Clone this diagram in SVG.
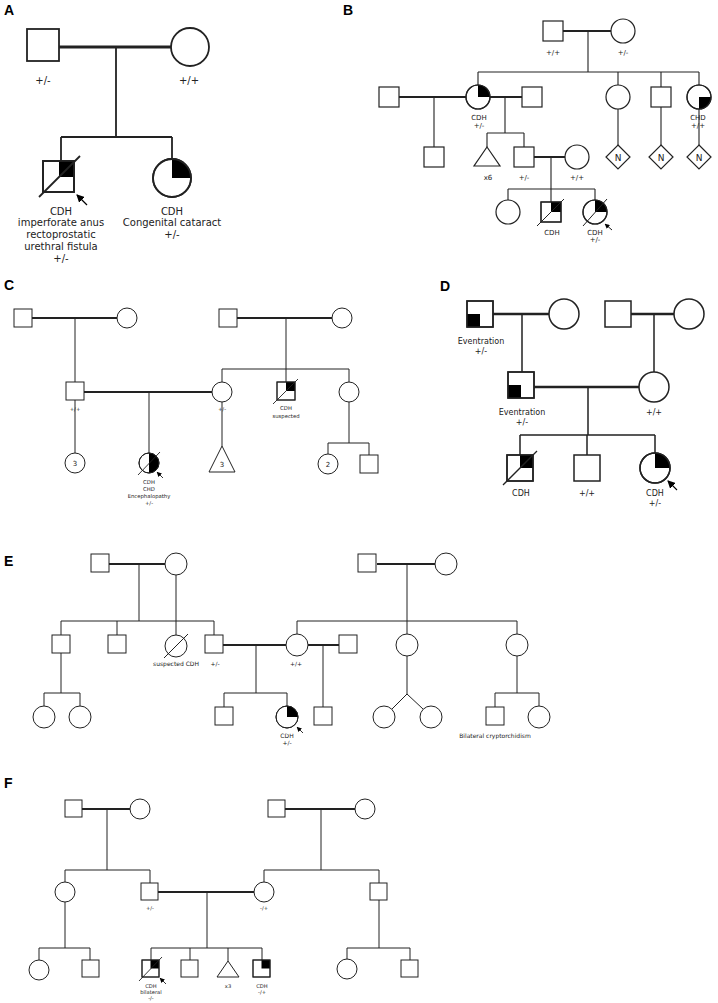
<svg xmlns="http://www.w3.org/2000/svg" width="718" height="1003" viewBox="0 0 718 1003">
<style>
.lbl{font-family:"Liberation Sans",Arial,sans-serif;font-weight:bold;font-size:14px;fill:#000}
.t{font-family:"DejaVu Sans",Verdana,sans-serif;fill:#222;text-anchor:middle}
.ta{font-size:10px}.tb{font-size:7px}.tc{font-size:5.3px}.td{font-size:8px}.te{font-size:6px}.tf{font-size:5.2px}
.n{fill:#fff;stroke:#222}
.sA{stroke-width:1.8}.sB{stroke-width:1.2}.sC{stroke-width:1}.sD{stroke-width:1.5}
.f{fill:#000;stroke:none}
.l{stroke:#222;fill:none}
.m{stroke:#222;fill:none}
</style>
<defs>
<marker id="arL" markerUnits="userSpaceOnUse" markerWidth="8" markerHeight="8" refX="7" refY="4" orient="auto"><path d="M0,0 L8,4 L0,8 z" fill="#000"/></marker>
<marker id="arS" markerUnits="userSpaceOnUse" markerWidth="5" markerHeight="5" refX="4.5" refY="2.5" orient="auto"><path d="M0,0 L5,2.5 L0,5 z" fill="#000"/></marker>
</defs>
<rect width="718" height="1003" fill="#fff"/>
<text class="lbl" x="4" y="15">A</text>
<text class="lbl" x="343" y="15">B</text>
<text class="lbl" x="4" y="290">C</text>
<text class="lbl" x="440" y="291">D</text>
<text class="lbl" x="4" y="566">E</text>
<text class="lbl" x="4" y="788">F</text>

<g id="connectors">
 <!-- A -->
 <g stroke-width="1.8" class="l">
  <path d="M116,47V137 M61,137H172 M61,137V161 M172,137V159"/>
 </g>
 <path class="m" stroke-width="3" d="M59,47H171"/>
 <line x1="87" y1="205" x2="77" y2="195" stroke="#000" stroke-width="1.3" marker-end="url(#arL)"/>
 <!-- B -->
 <g class="l" stroke-width="1.1">
  <path d="M588,31V72 M478,72H699 M478,72V85 M618,72V85 M661,72V87 M699,72V85"/>
  <path d="M434,97V147 M505,97V133 M487,133H524 M487,133V147 M524,133V147"/>
  <path d="M551,157V189 M508,189H595 M508,189V200 M551,189V202 M595,189V200"/>
  <path d="M618,109V145 M661,107V145 M699,109V145"/>
 </g>
 <g class="m" stroke-width="2">
  <path d="M563,31H611 M399,97H466 M490,97H522 M534,157H565"/>
 </g>
 <line x1="612" y1="230" x2="605" y2="224" stroke="#000" stroke-width="0.9" marker-end="url(#arS)"/>
 <!-- C -->
 <g class="l" stroke-width="1">
  <path d="M75,318V382 M75,400V453 M149,392V453 M222,402V446"/>
  <path d="M286,318V382 M222,369H349 M222,369V382 M349,369V382"/>
  <path d="M349,402V443 M328,443H369 M328,443V454 M369,443V455"/>
 </g>
 <g class="m" stroke-width="1.8">
  <path d="M32,318H117 M84,392H212 M237,318H332"/>
 </g>
 <line x1="163" y1="478" x2="157" y2="472" stroke="#000" stroke-width="0.8" marker-end="url(#arS)"/>
 <!-- D -->
 <g class="l" stroke-width="1.5">
  <path d="M522,314V372 M654,314V372 M588,387V435 M520,435H655 M520,435V455 M587,435V455 M655,435V453"/>
 </g>
 <g class="m" stroke-width="2.3">
  <path d="M492,314H549 M630,314H674 M534,387H639"/>
 </g>
 <line x1="677" y1="490" x2="668" y2="481" stroke="#000" stroke-width="1.1" marker-end="url(#arL)"/>
 <!-- E -->
 <g class="l" stroke-width="1">
  <path d="M139,564V621 M176,575V635 M61,621H214 M61,621V635 M117,621V635 M214,621V635"/>
  <path d="M256,645V693 M224,693H287 M224,693V707 M287,693V706 M323,645V707"/>
  <path d="M61,653V693 M44,693H80 M44,693V706 M80,693V706"/>
  <path d="M407,564V621 M297,621H517 M297,621V634 M407,621V634 M517,621V634"/>
  <path d="M407,656V694 L392,709 M407,694 L423,709"/>
  <path d="M517,656V693 M495,693H539 M495,693V707 M539,693V706"/>
 </g>
 <g class="m" stroke-width="1.8">
  <path d="M109,564H165 M223,645H286 M308,645H339 M377,564H435"/>
 </g>
 <line x1="303" y1="733" x2="297" y2="727" stroke="#000" stroke-width="0.8" marker-end="url(#arS)"/>
 <!-- F -->
 <g class="l" stroke-width="1">
  <path d="M107,809V870 M65,870H150 M65,870V882 M150,870V883"/>
  <path d="M207,892V948 M151,948H262 M151,948V960 M190,948V960 M228,948V961 M262,948V960"/>
  <path d="M65,902V948 M39,948H90 M39,948V960 M90,948V960"/>
  <path d="M321,809V870 M264,870H379 M264,870V882 M379,870V883"/>
  <path d="M379,900V948 M347,948H410 M347,948V959 M410,948V960"/>
 </g>
 <g class="m" stroke-width="1.8">
  <path d="M82,809H130 M158,892H254 M285,809H355"/>
 </g>
 <line x1="166" y1="984" x2="160" y2="978" stroke="#000" stroke-width="0.8" marker-end="url(#arS)"/>
</g>

<!-- Panel A -->
<g id="A-father"><rect class="n sA" x="27" y="29" width="32" height="32"/><text class="t ta" x="43" y="84">+/-</text></g>
<g id="A-mother"><circle class="n sA" cx="190" cy="47" r="19"/><text class="t ta" x="189" y="84">+/+</text></g>
<g id="A-son">
 <rect class="n sA" x="43" y="161" width="31" height="31"/>
 <rect class="f" x="59" y="161" width="15" height="16"/>
 <rect fill="none" stroke="#222" stroke-width="1.8" x="43" y="161" width="31" height="31"/>
 <line x1="39" y1="197" x2="80" y2="156" stroke="#222" stroke-width="1.8"/>
 <text class="t ta" x="61" y="215">CDH</text>
 <text class="t ta" x="61" y="226">imperforate anus</text>
 <text class="t ta" x="61" y="238">rectoprostatic</text>
 <text class="t ta" x="61" y="250">urethral fistula</text>
 <text class="t ta" x="61" y="262">+/-</text>
</g>
<g id="A-daughter">
 <circle class="n sA" cx="172" cy="178" r="19"/>
 <path class="f" d="M172,178 L172,159 A19,19 0 0 1 191,178 Z"/>
 <circle fill="none" stroke="#222" stroke-width="1.8" cx="172" cy="178" r="19"/>
 <text class="t ta" x="172" y="215">CDH</text>
 <text class="t ta" x="172" y="226">Congenital cataract</text>
 <text class="t ta" x="172" y="238">+/-</text>
</g>

<!-- Panel B -->
<g id="B-gf"><rect class="n sB" x="543" y="21" width="20" height="20"/><text class="t tb" x="553" y="55">+/+</text></g>
<g id="B-gm"><circle class="n sB" cx="623" cy="31" r="12"/><text class="t tb" x="623" y="55">+/-</text></g>
<g id="B-spouse1"><rect class="n sB" x="379" y="87" width="20" height="20"/></g>
<g id="B-mother">
 <circle class="n sB" cx="478" cy="97" r="12"/>
 <path class="f" d="M478,97 L478,85 A12,12 0 0 1 490,97 Z"/>
 <circle fill="none" stroke="#222" stroke-width="1.2" cx="478" cy="97" r="12"/>
 <text class="t tb" x="479" y="120">CDH</text><text class="t tb" x="479" y="128">+/-</text>
</g>
<g id="B-spouse2"><rect class="n sB" x="522" y="87" width="20" height="20"/></g>
<g id="B-aunt1"><circle class="n sB" cx="618" cy="97" r="12"/></g>
<g id="B-uncle"><rect class="n sB" x="651" y="87" width="20" height="20"/></g>
<g id="B-aunt2">
 <circle class="n sB" cx="699" cy="97" r="12"/>
 <path class="f" d="M699,97 L711,97 A12,12 0 0 1 699,109 Z"/>
 <circle fill="none" stroke="#222" stroke-width="1.2" cx="699" cy="97" r="12"/>
 <text class="t tb" x="698" y="120">CHD</text><text class="t tb" x="698" y="128">+/+</text>
</g>
<g id="B-halfbro"><rect class="n sB" x="424" y="147" width="20" height="20"/></g>
<g id="B-x6"><polygon class="n sB" points="487,147 500,166 474,166"/><text class="t tb" x="488" y="180">x6</text></g>
<g id="B-father"><rect class="n sB" x="514" y="147" width="20" height="20"/><text class="t tb" x="524" y="180">+/-</text></g>
<g id="B-fspouse"><circle class="n sB" cx="577" cy="157" r="12"/><text class="t tb" x="577" y="180">+/+</text></g>
<g id="B-N1"><polygon class="n sB" points="618,145 630,157 618,169 606,157"/><text class="t" font-size="9" x="618" y="160.5">N</text></g>
<g id="B-N2"><polygon class="n sB" points="661,145 673,157 661,169 649,157"/><text class="t" font-size="9" x="661" y="160.5">N</text></g>
<g id="B-N3"><polygon class="n sB" points="699,145 711,157 699,169 687,157"/><text class="t" font-size="9" x="699" y="160.5">N</text></g>
<g id="B-sis"><circle class="n sB" cx="508" cy="212" r="12"/></g>
<g id="B-bro">
 <rect class="n sB" x="541" y="202" width="20" height="20"/>
 <rect class="f" x="551" y="202" width="10" height="10"/>
 <rect fill="none" stroke="#222" stroke-width="1.2" x="541" y="202" width="20" height="20"/>
 <line x1="537" y1="226" x2="564" y2="199" stroke="#222" stroke-width="1"/>
 <text class="t tb" x="552" y="235">CDH</text>
</g>
<g id="B-proband">
 <circle class="n sB" cx="595" cy="212" r="12"/>
 <path class="f" d="M595,212 L595,200 A12,12 0 0 1 607,212 Z"/>
 <circle fill="none" stroke="#222" stroke-width="1.2" cx="595" cy="212" r="12"/>
 <line x1="583" y1="226" x2="607" y2="199" stroke="#222" stroke-width="1"/>
 <text class="t tb" x="595" y="235">CDH</text><text class="t tb" x="595" y="242">+/-</text>
</g>

<!-- Panel C -->
<g id="C-gf1"><rect class="n sC" x="14" y="309" width="18" height="18"/></g>
<g id="C-gm1"><circle class="n sC" cx="127" cy="318" r="10"/></g>
<g id="C-father"><rect class="n sC" x="66" y="382" width="18" height="18"/><text class="t tc" x="75" y="411">+/+</text></g>
<g id="C-gf2"><rect class="n sC" x="219" y="309" width="18" height="18"/></g>
<g id="C-gm2"><circle class="n sC" cx="342" cy="318" r="10"/></g>
<g id="C-mother"><circle class="n sC" cx="222" cy="392" r="10"/><text class="t tc" x="222" y="411">+/-</text></g>
<g id="C-uncle">
 <rect class="n sC" x="277" y="382" width="18" height="18"/>
 <rect class="f" x="286" y="382" width="9" height="9"/>
 <rect fill="none" stroke="#222" stroke-width="1" x="277" y="382" width="18" height="18"/>
 <line x1="273" y1="404" x2="298" y2="379" stroke="#222" stroke-width="0.9"/>
 <text class="t tc" x="286" y="410">CDH</text><text class="t tc" x="286" y="418">suspected</text>
</g>
<g id="C-aunt"><circle class="n sC" cx="349" cy="392" r="10"/></g>
<g id="C-c3"><circle class="n sC" cx="75" cy="463" r="10"/><text class="t" font-size="7" x="75" y="465.5">3</text></g>
<g id="C-proband">
 <circle class="n sC" cx="149" cy="463" r="10"/>
 <path class="f" d="M149,453 A10,10 0 0 1 149,473 Z"/>
 <circle fill="none" stroke="#222" stroke-width="1" cx="149" cy="463" r="10"/>
 <line x1="138" y1="475" x2="160" y2="452" stroke="#222" stroke-width="0.9"/>
 <text class="t tc" x="149" y="484">CDH</text><text class="t tc" x="149" y="491">CHD</text>
 <text class="t tc" x="149" y="498">Encephalopathy</text><text class="t tc" x="149" y="504.5">+/-</text>
</g>
<g id="C-t3"><polygon class="n sC" points="222,446 235,472 209,472"/><text class="t" font-size="7" x="222" y="467">3</text></g>
<g id="C-c2"><circle class="n sC" cx="328" cy="464" r="10"/><text class="t" font-size="7" x="328" y="466.5">2</text></g>
<g id="C-cousin"><rect class="n sC" x="360" y="455" width="18" height="18"/></g>

<!-- Panel D -->
<g id="D-gf1">
 <rect class="n sD" x="467" y="301" width="26" height="26"/>
 <rect class="f" x="467" y="314" width="13" height="13"/>
 <rect fill="none" stroke="#222" stroke-width="1.5" x="467" y="301" width="26" height="26"/>
 <text class="t td" x="481" y="344">Eventration</text><text class="t td" x="481" y="354">+/-</text>
</g>
<g id="D-gm1"><circle class="n sD" cx="564" cy="314" r="15"/></g>
<g id="D-gf2"><rect class="n sD" x="605" y="301" width="26" height="26"/></g>
<g id="D-gm2"><circle class="n sD" cx="689" cy="314" r="15"/></g>
<g id="D-father">
 <rect class="n sD" x="508" y="372" width="26" height="26"/>
 <rect class="f" x="508" y="385" width="13" height="13"/>
 <rect fill="none" stroke="#222" stroke-width="1.5" x="508" y="372" width="26" height="26"/>
 <text class="t td" x="522" y="415">Eventration</text><text class="t td" x="522" y="425">+/-</text>
</g>
<g id="D-mother"><circle class="n sD" cx="654" cy="387" r="15"/><text class="t td" x="654" y="415">+/+</text></g>
<g id="D-bro1">
 <rect class="n sD" x="507" y="455" width="26" height="26"/>
 <rect class="f" x="520" y="455" width="13" height="13"/>
 <rect fill="none" stroke="#222" stroke-width="1.5" x="507" y="455" width="26" height="26"/>
 <line x1="503" y1="485" x2="537" y2="451" stroke="#222" stroke-width="1.3"/>
 <text class="t td" x="521" y="496">CDH</text>
</g>
<g id="D-bro2"><rect class="n sD" x="574" y="455" width="26" height="26"/><text class="t td" x="587" y="496">+/+</text></g>
<g id="D-proband">
 <circle class="n sD" cx="655" cy="468" r="15"/>
 <path class="f" d="M655,468 L655,453 A15,15 0 0 1 670,468 Z"/>
 <circle fill="none" stroke="#222" stroke-width="1.5" cx="655" cy="468" r="15"/>
 <text class="t td" x="655" y="496">CDH</text><text class="t td" x="655" y="506">+/-</text>
</g>

<!-- Panel E -->
<g id="E-gf1"><rect class="n sC" x="91" y="554" width="18" height="18"/></g>
<g id="E-gm1"><circle class="n sC" cx="176" cy="564" r="11"/></g>
<g id="E-u1"><rect class="n sC" x="52" y="635" width="18" height="18"/></g>
<g id="E-u2"><rect class="n sC" x="108" y="635" width="18" height="18"/></g>
<g id="E-a1"><circle class="n sC" cx="176" cy="646" r="11"/><line x1="164" y1="658" x2="188" y2="634" stroke="#222" stroke-width="1"/><text class="t te" x="176" y="666">suspected CDH</text></g>
<g id="E-father"><rect class="n sC" x="205" y="635" width="18" height="18"/><text class="t te" x="215" y="666">+/-</text></g>
<g id="E-mother"><circle class="n sC" cx="297" cy="645" r="11"/><text class="t te" x="296" y="666">+/+</text></g>
<g id="E-spouse2"><rect class="n sC" x="339" y="635" width="18" height="18"/></g>
<g id="E-c1"><circle class="n sC" cx="44" cy="717" r="11"/></g>
<g id="E-c2"><circle class="n sC" cx="80" cy="717" r="11"/></g>
<g id="E-bro"><rect class="n sC" x="215" y="707" width="18" height="18"/></g>
<g id="E-proband">
 <circle class="n sC" cx="287" cy="717" r="11"/>
 <path class="f" d="M287,717 L287,706 A11,11 0 0 1 298,717 Z"/>
 <circle fill="none" stroke="#222" stroke-width="1" cx="287" cy="717" r="11"/>
 <text class="t te" x="287" y="738">CDH</text><text class="t te" x="287" y="744.5">+/-</text>
</g>
<g id="E-halfbro"><rect class="n sC" x="314" y="707" width="18" height="18"/></g>
<g id="E-gf2"><rect class="n sC" x="358" y="554" width="18" height="18"/></g>
<g id="E-gm2"><circle class="n sC" cx="446" cy="564" r="11"/></g>
<g id="E-a2"><circle class="n sC" cx="407" cy="645" r="11"/></g>
<g id="E-a3"><circle class="n sC" cx="517" cy="645" r="11"/></g>
<g id="E-tw1"><circle class="n sC" cx="384" cy="717" r="11"/></g>
<g id="E-tw2"><circle class="n sC" cx="431" cy="717" r="11"/></g>
<g id="E-cous1"><rect class="n sC" x="486" y="707" width="18" height="18"/><text class="t te" x="495" y="738">Bilateral cryptorchidism</text></g>
<g id="E-cous2"><circle class="n sC" cx="539" cy="717" r="11"/></g>

<!-- Panel F -->
<g id="F-gf1"><rect class="n sC" x="65" y="800" width="17" height="17"/></g>
<g id="F-gm1"><circle class="n sC" cx="140" cy="809" r="10"/></g>
<g id="F-aunt1"><circle class="n sC" cx="65" cy="892" r="10"/></g>
<g id="F-father"><rect class="n sC" x="141" y="883" width="17" height="17"/><text class="t tf" x="150" y="910">+/-</text></g>
<g id="F-mother"><circle class="n sC" cx="264" cy="892" r="10"/><text class="t tf" x="264" y="910">-/+</text></g>
<g id="F-gf2"><rect class="n sC" x="268" y="800" width="17" height="17"/></g>
<g id="F-gm2"><circle class="n sC" cx="365" cy="809" r="10"/></g>
<g id="F-uncle"><rect class="n sC" x="370" y="883" width="17" height="17"/></g>
<g id="F-c1"><circle class="n sC" cx="39" cy="970" r="10"/></g>
<g id="F-c2"><rect class="n sC" x="82" y="960" width="17" height="17"/></g>
<g id="F-proband">
 <rect class="n sC" x="142" y="960" width="17" height="17"/>
 <rect class="f" x="150.5" y="960" width="8.5" height="8.5"/>
 <rect fill="none" stroke="#222" stroke-width="1" x="142" y="960" width="17" height="17"/>
 <line x1="139" y1="981" x2="162" y2="957" stroke="#222" stroke-width="0.9"/>
 <text class="t tf" x="151" y="988">CDH</text><text class="t tf" x="151" y="994">bilateral</text><text class="t tf" x="151" y="1000">-/-</text>
</g>
<g id="F-sib1"><rect class="n sC" x="181" y="960" width="17" height="17"/></g>
<g id="F-x3"><polygon class="n sC" points="228,961 239,977 217,977"/><text class="t tf" x="228" y="988">x3</text></g>
<g id="F-sib3">
 <rect class="n sC" x="253" y="960" width="17" height="17"/>
 <rect class="f" x="261.5" y="960" width="8.5" height="8.5"/>
 <rect fill="none" stroke="#222" stroke-width="1" x="253" y="960" width="17" height="17"/>
 <text class="t tf" x="262" y="988">CDH</text><text class="t tf" x="262" y="994">-/+</text>
</g>
<g id="F-c3"><circle class="n sC" cx="347" cy="969" r="10"/></g>
<g id="F-c4"><rect class="n sC" x="401" y="960" width="17" height="17"/></g>
</svg>
